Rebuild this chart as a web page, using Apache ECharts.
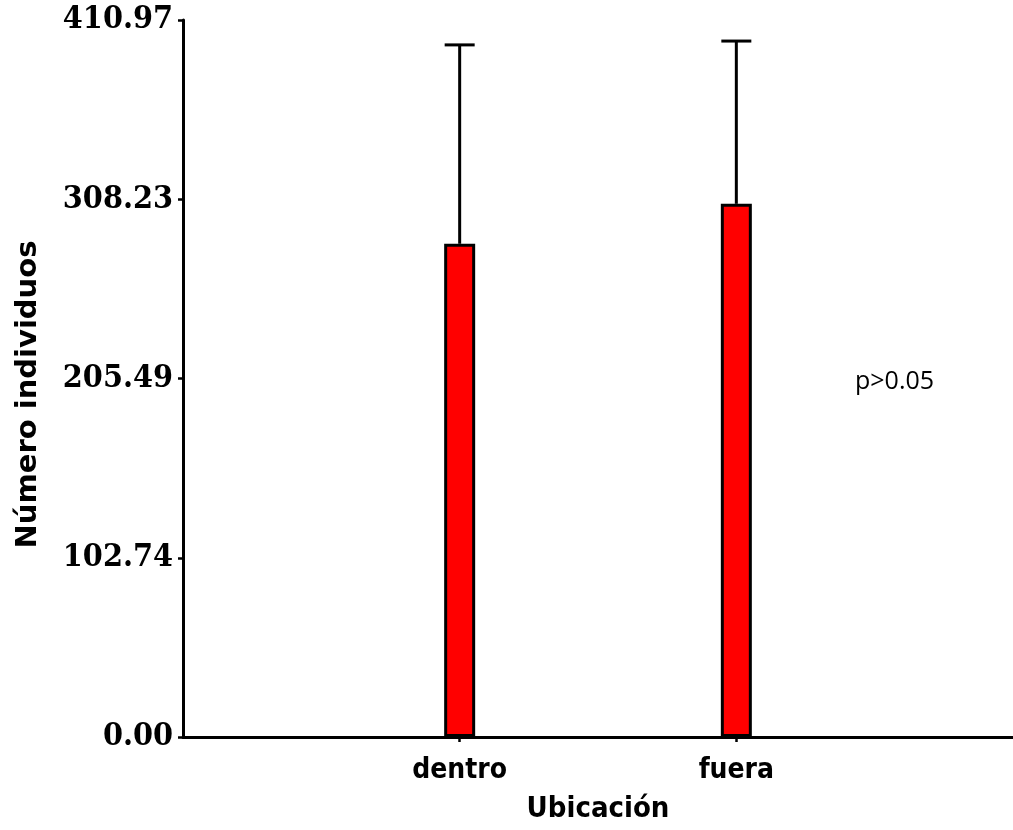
<!DOCTYPE html>
<html>
<head>
<meta charset="utf-8">
<script src="https://cdn.jsdelivr.net/npm/echarts@6/dist/echarts.min.js"></script>
<style>
html,body{margin:0;padding:0;background:#fff;}
#chart{width:1013px;height:830px;}
</style>
</head>
<body>
<div id="chart"></div>
<script>
// Data
var categories = ['', 'dentro', 'fuera', ''];
var means = [null, 282.7, 305.6, null];
var errors = [null, 114.0, 93.3, null];
var yTickLabels = ['0.00', '102.74', '205.49', '308.23', '410.97'];
var yMax = 410.97;
var xTitle = 'Ubicación';
var yTitle = 'Número individuos';
var note = 'p>0.05';

var yInterval = yMax / 4;
var chart = echarts.init(document.getElementById('chart'), null, {renderer: 'canvas'});

var errData = [];
for (var i = 0; i < categories.length; i++) {
  if (means[i] != null) errData.push([i, means[i], means[i] + errors[i]]);
}

var sans = "'DejaVu Sans', sans-serif";
var sansC = "'DejaVu Sans Condensed', 'DejaVu Sans', sans-serif";
var serifC = "'DejaVu Serif Condensed', 'DejaVu Serif', serif";

var option = {
  animation: false,
  backgroundColor: '#ffffff',
  grid: {left: 183, right: -3, top: 20, bottom: 93, containLabel: false},
  xAxis: {
    type: 'category',
    data: categories,
    boundaryGap: false,
    name: xTitle,
    nameLocation: 'middle',
    nameGap: 58,
    nameTextStyle: {fontFamily: sansC, fontWeight: 'bold', fontSize: 29, color: '#000'},
    axisLine: {lineStyle: {color: '#000', width: 3}},
    axisTick: {show: true, length: 5, lineStyle: {color: '#000', width: 2.5},
      interval: function (idx, val) { return val !== ''; }},
    axisLabel: {fontFamily: sansC, fontWeight: 'bold', fontSize: 28, color: '#000', margin: 20,
      interval: function (idx, val) { return val !== ''; }},
    splitLine: {show: false}
  },
  yAxis: {
    type: 'value',
    min: 0,
    max: yMax,
    interval: yInterval,
    name: yTitle,
    nameLocation: 'middle',
    nameGap: 140,
    nameRotate: 90,
    nameTextStyle: {fontFamily: sans, fontWeight: 'bold', fontSize: 29, color: '#000', padding: [0, 32, 0, 0]},
    axisLine: {show: true, lineStyle: {color: '#000', width: 3}},
    axisTick: {show: true, length: 5, lineStyle: {color: '#000', width: 2.5}},
    axisLabel: {fontFamily: serifC, fontWeight: 'bold', fontSize: 32, color: '#000', margin: 10,
      formatter: function (v) { return yTickLabels[Math.round(v / yInterval)]; }},
    splitLine: {show: false}
  },
  series: [
    {
      type: 'bar',
      data: means,
      barWidth: 31,
      barMaxWidth: 40,
      itemStyle: {color: '#ff0000', borderColor: '#000', borderWidth: 3},
      z: 2
    },
    {
      type: 'custom',
      data: errData,
      z: 3,
      renderItem: function (params, api) {
        var x = api.value(0);
        var lo = api.coord([x, api.value(1)]);
        var hi = api.coord([x, api.value(2)]);
        var half = 15;
        return {
          type: 'group',
          children: [
            {type: 'line', shape: {x1: lo[0], y1: lo[1], x2: hi[0], y2: hi[1]},
              style: {stroke: '#000', lineWidth: 3}},
            {type: 'line', shape: {x1: hi[0] - half, y1: hi[1], x2: hi[0] + half, y2: hi[1]},
              style: {stroke: '#000', lineWidth: 3}}
          ]
        };
      }
    }
  ],
  graphic: [
    {type: 'text', left: 855, top: 369,
      style: {text: note, fontFamily: "'Open Sans', sans-serif", fontSize: 25, fill: '#000'}}
  ]
};
chart.setOption(option);
</script>
</body>
</html>
